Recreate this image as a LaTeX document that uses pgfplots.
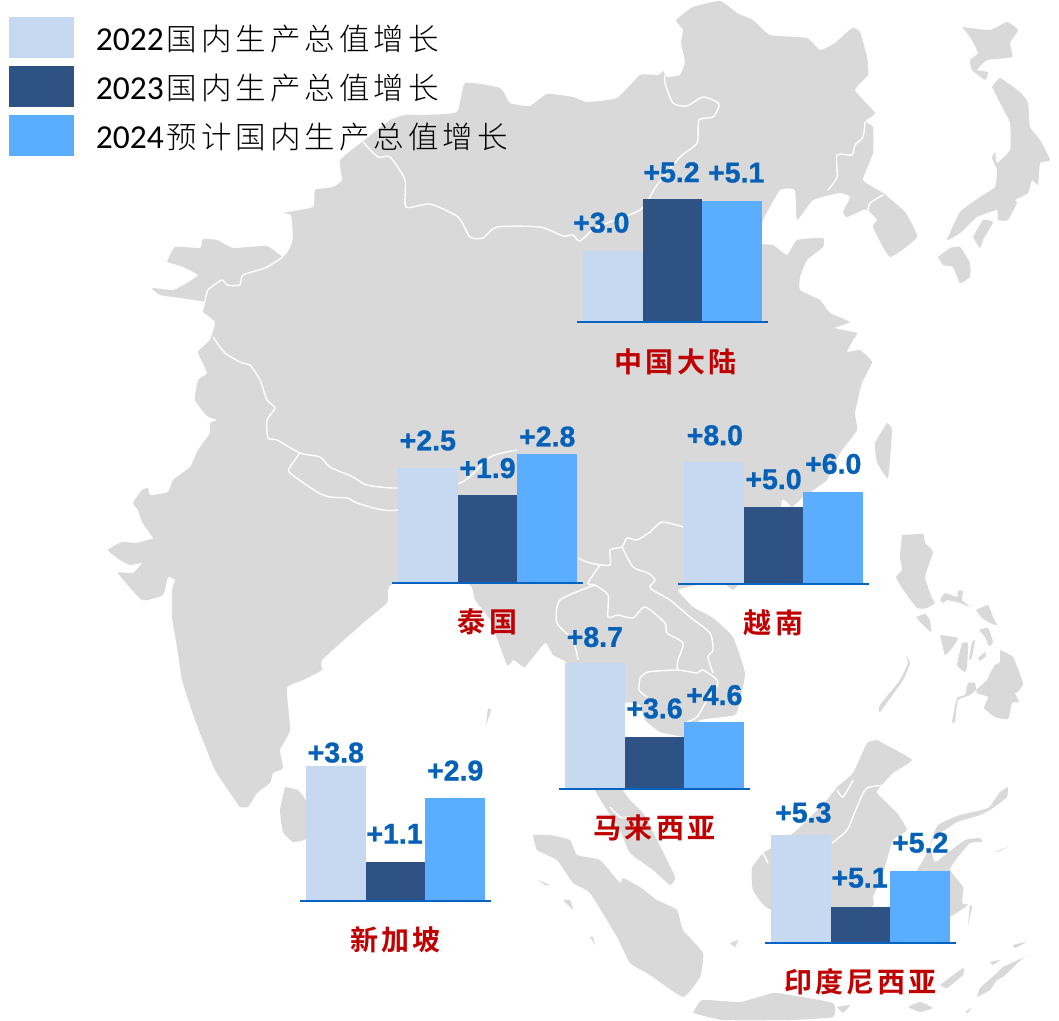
\documentclass[border=0pt]{standalone}
\usepackage{pgfplots}
\pgfplotsset{compat=1.18}
\usepackage{fontspec}
\setmainfont{Liberation Sans}
\newfontfamily\barnum[FakeBold=1]{Liberation Sans Bold}
\newfontfamily\legcjk[LetterSpace=13]{Noto Sans CJK SC Light}
\newfontfamily\legnum{Carlito}
\newfontfamily\labcjk[LetterSpace=11]{Noto Sans CJK SC Bold}
\definecolor{land}{HTML}{D9D9D9}
\definecolor{lightbar}{HTML}{C6D9F1}
\definecolor{darkbar}{HTML}{2E5283}
\definecolor{bluebar}{HTML}{5BADFF}
\definecolor{baseblue}{HTML}{0563C1}
\definecolor{labblue}{HTML}{0560B8}
\definecolor{labred}{HTML}{C00000}
\newcommand{\lt}[1]{{\fontsize{33.5}{36}\selectfont\legnum #1\hspace*{3pt}}}
\pgfplotsset{
  land/.style={fill=land,draw=none,forget plot,smooth,tension=0.25},
  bord/.style={draw=white,line width=1.4pt,fill=none,forget plot,smooth,tension=0.4,line join=round},
  country/.style={
    ybar,bar shift=0pt,bar width=59.7pt,x=59.7pt,
    xmin=-0.1,xmax=3.1,enlargelimits=false,clip=true,
    axis y line=none,axis x line*=bottom,xtick=\empty,ytick=\empty,
    axis on top=true,
    axis line style={-,draw=baseblue,line width=2pt},
    xlabel style={at={(axis description cs:0.5,0)},anchor=center,yshift=-39pt,
      font=\fontsize{28}{30}\selectfont\labcjk,text=labred},
    /pgf/number format/.cd,fixed,fixed zerofill,precision=1,assume math mode=true},
}
% colour, position, value, x offset, gap above bar (pt)
\newcommand{\gb}[5]{\addplot[fill=#1,draw=none,
  nodes near coords={+\pgfmathprintnumber{\pgfplotspointmeta}},
  nodes near coords style={inner sep=0pt,xshift=#4pt,yshift=#5pt,text=labblue,
    font=\fontsize{28.5}{30}\selectfont\barnum}]
  coordinates {(#2,#3)};}
\begin{document}
\begin{tikzpicture}
\path[use as bounding box] (0,0) rectangle (1059pt,1020pt);
\begin{axis}[at={(0pt,0pt)},anchor=south west,x=1pt,y=1pt,xmin=0,xmax=1059,ymin=0,ymax=1020,
  y dir=reverse,hide axis,clip=true,
  legend cell align=left,
  legend image code/.code={\fill[#1,draw=none] (0pt,-20pt) rectangle (65pt,21pt);},
  legend style={at={(axis cs:9,17)},anchor=north west,draw=none,fill=none,inner sep=0pt,outer sep=0pt,
    row sep=8pt,nodes={inner sep=0pt,text depth=0pt},
    /tikz/every odd column/.style={column sep=22pt},
    font=\fontsize{30.5}{34}\selectfont\legcjk}]
% mainland Asia
\addplot[land] coordinates {(167,262)(175,247)(200,248)(203,239)(217,240)(233,248)(267,246)(283,257)(290,248)(293,237)(291,215)(283,213)(313,207)(315,190)(333,187)(342,180)(340,160)(362,142)(390,120)(405,115)(423,115)(457,112)(465,83)(500,88)(510,103)(530,106)(547,94)(573,97)(587,102)(617,98)(640,75)(658,75)(663,71)(667,77)(680,75)(685,62)(681,43)(683,30)(676,20)(693,7)(720,1)(737,13)(753,20)(770,35)(807,38)(820,50)(835,43)(852,28)(860,32)(867,57)(868,75)(855,90)(875,113)(865,121)(873,127)(873,153)(863,180)(883,193)(905,212)(917,237)(890,257)(873,227)(877,220)(868,210)(863,210)(847,217)(843,212)(850,197)(840,193)(813,200)(797,220)(795,190)(780,190)(763,220)(760,243)(773,245)(787,255)(797,240)(823,238)(823,247)(807,260)(800,277)(800,290)(820,300)(830,313)(850,322)(835,328)(857,333)(853,340)(847,352)(860,350)(872,362)(862,383)(855,413)(857,430)(840,453)(827,480)(803,497)(792,507)(782,500)(775,560)(700,584)(678,590)(693,607)(713,618)(733,637)(745,673)(740,700)(735,715)(700,720)(690,735)(684,737)(660,732)(645,720)(640,705)(625,703)(615,730)(610,770)(630,800)(643,813)(657,840)(675,877)(670,885)(653,870)(630,853)(620,830)(607,810)(595,790)(585,750)(575,690)(567,663)(553,655)(545,643)(525,667)(518,663)(513,660)(507,665)(490,620)(475,600)(468,584)(393,584)(388,593)(387,603)(363,623)(322,660)(322,670)(303,680)(287,688)(290,730)(280,750)(283,768)(273,773)(270,783)(257,793)(248,807)(240,807)(237,803)(215,770)(195,720)(182,680)(178,653)(172,617)(172,590)(175,580)(168,577)(163,595)(142,600)(118,573)(133,573)(142,563)(130,565)(120,560)(108,550)(122,542)(137,543)(147,540)(153,538)(142,522)(138,510)(133,503)(142,490)(148,488)(150,495)(168,492)(173,480)(190,467)(198,450)(210,433)(210,423)(217,420)(207,416)(195,400)(198,380)(207,373)(198,352)(210,340)(215,322)(203,312)(205,302)(180,298)(160,295)(152,288)(173,290)(187,283)(198,275)(183,267)(167,262)};
% Sri Lanka, Hainan, Taiwan
\addplot[land] coordinates {(285,787)(298,790)(307,803)(307,838)(293,842)(283,832)(280,810)(285,787)};
\addplot[land] coordinates {(725,584)(738,584)(733,590)(725,584)};
\addplot[land] coordinates {(887,423)(892,430)(888,478)(877,462)(875,443)(887,423)};
% Japan
\addplot[land] coordinates {(962,27)(990,30)(1007,22)(1018,30)(1010,43)(1012,57)(987,60)(977,70)(988,72)(985,80)(972,70)(970,60)(978,53)(970,37)(962,27)};
\addplot[land] coordinates {(992,87)(1000,78)(1020,92)(1028,103)(1030,127)(1040,140)(1050,160)(1040,163)(1038,185)(1032,180)(1028,193)(1015,200)(1017,203)(1008,220)(998,220)(997,210)(977,217)(960,233)(947,240)(960,212)(980,197)(995,187)(997,170)(992,158)(995,152)(997,163)(1010,150)(1010,123)(1000,103)(992,87)};
\addplot[land] coordinates {(973,237)(983,220)(993,222)(983,240)(980,248)(973,237)};
\addplot[land] coordinates {(938,257)(950,248)(960,247)(970,263)(970,277)(960,283)(953,267)(943,265)(938,257)};
% Philippines
\addplot[land] coordinates {(902,535)(923,534)(925,543)(933,552)(925,577)(932,598)(935,603)(927,608)(917,608)(902,588)(896,577)(902,570)(900,557)(902,535)};
\addplot[land] coordinates {(940,600)(945,593)(957,597)(958,591)(963,591)(962,600)(970,607)(960,603)(947,600)(943,603)(940,600)};
\addplot[land] coordinates {(916,617)(925,614)(930,620)(931,632)(923,625)(916,617)};
\addplot[land] coordinates {(976,610)(988,605)(993,617)(997,625)(990,623)(982,618)(976,610)};
\addplot[land] coordinates {(979,630)(988,628)(993,642)(989,646)(985,637)(979,630)};
\addplot[land] coordinates {(940,635)(958,638)(952,648)(945,655)(940,635)};
\addplot[land] coordinates {(962,643)(968,643)(967,667)(965,672)(957,665)(962,643)};
\addplot[land] coordinates {(972,642)(975,640)(972,657)(969,660)(972,642)};
\addplot[land] coordinates {(978,658)(985,652)(986,656)(980,661)(978,658)};
\addplot[land] coordinates {(1000,650)(1013,657)(1023,683)(1018,692)(1015,693)(1019,702)(1012,703)(1008,719)(995,717)(984,708)(988,697)(977,693)(975,683)(968,683)(965,695)(957,698)(952,722)(955,722)(958,700)(970,695)(987,680)(990,673)(995,665)(1000,662)(1000,650)};
\addplot[land] coordinates {(906,655)(910,663)(903,680)(880,712)(880,705)(900,680)(908,663)(906,655)};
% Sumatra and neighbours
\addplot[land] coordinates {(533,835)(550,835)(570,840)(577,855)(600,860)(620,883)(623,878)(640,887)(657,900)(677,910)(683,930)(703,953)(700,977)(683,997)(650,975)(630,963)(617,937)(590,893)(573,883)(557,860)(537,850)(533,835)};
\addplot[land] coordinates {(538,880)(550,885)(545,885)(538,880)};
\addplot[land] coordinates {(563,900)(573,910)(570,900)(563,900)};
\addplot[land] coordinates {(590,937)(595,945)(593,937)(590,937)};
\addplot[land] coordinates {(730,943)(738,940)(735,947)(730,943)};
\addplot[land] coordinates {(488,708)(491,710)(486,725)(488,708)};
% Java and islands east
\addplot[land] coordinates {(693,1013)(702,1000)(740,1002)(773,993)(790,995)(833,1003)(833,1017)(790,1020)(723,1020)(693,1013)};
\addplot[land] coordinates {(837,1007)(850,1005)(843,1013)(837,1007)};
\addplot[land] coordinates {(908,1007)(920,1002)(933,1008)(920,1012)(908,1007)};
\addplot[land] coordinates {(977,997)(980,988)(998,972)(1003,967)(1033,953)(1023,958)(1003,977)(997,980)(990,990)(977,997)};
\addplot[land] coordinates {(965,1012)(971,1008)(968,1013)(965,1012)};
\addplot[land] coordinates {(940,985)(963,968)(963,975)(947,988)(940,985)};
\addplot[land] coordinates {(1013,945)(1026,942)(1015,948)(1013,945)};
\addplot[land] coordinates {(990,962)(1000,960)(993,965)(990,962)};
% Borneo
\addplot[land] coordinates {(877,740)(890,747)(912,760)(893,773)(880,787)(877,793)(897,813)(907,830)(893,840)(883,873)(873,897)(870,907)(772,910)(753,890)(752,868)(763,853)(773,847)(797,830)(827,800)(837,787)(853,773)(867,743)(877,740)};
% Sulawesi
\addplot[land] coordinates {(1008,787)(1007,797)(993,808)(980,815)(957,822)(945,830)(935,835)(927,853)(917,870)(905,885)(905,940)(950,917)(968,905)(962,903)(963,887)(950,870)(957,858)(970,843)(982,842)(980,838)(965,840)(945,855)(935,862)(930,845)(938,825)(960,815)(988,808)(1000,792)(1008,787)};
\addplot[land] coordinates {(972,907)(968,925)(970,905)(972,907)};
\addplot[land] coordinates {(995,852)(1008,847)(1000,851)(995,852)};
% borders
\addplot[bord] coordinates {(363,142)(378,157)(390,157)(405,180)(406,207)(430,204)(458,217)(470,237)(483,238)(497,227)(540,227)(563,236)(573,235)(580,241)(597,227)(640,210)(657,185)(680,157)(697,143)(699,120)(713,117)(719,104)(703,97)(687,106)(673,103)(665,83)(665,75)};
\addplot[bord] coordinates {(865,122)(863,137)(855,145)(852,155)(837,155)(837,177)(828,190)};
\addplot[bord] coordinates {(883,195)(870,203)(868,210)};
\addplot[bord] coordinates {(283,257)(265,268)(243,275)(240,285)(227,285)(222,280)(208,290)(205,302)};
\addplot[bord] coordinates {(213,337)(225,353)(242,363)(250,365)(260,380)(267,400)(275,408)(267,420)(268,438)(277,440)(300,453)(320,457)(330,467)(353,477)(367,485)(397,488)(460,483)(490,457)(517,450)};
\addplot[bord] coordinates {(300,453)(290,467)(290,473)(317,492)(330,497)(347,498)(357,503)(370,507)(383,510)(397,510)(460,500)};
\addplot[bord] coordinates {(578,558)(590,563)(610,565)(610,550)(622,547)(627,538)(637,540)(650,532)(662,522)(683,527)};
\addplot[bord] coordinates {(622,547)(633,567)(648,573)(655,580)(650,588)(670,600)(690,617)(710,633)(713,650)(708,657)(713,673)};
\addplot[bord] coordinates {(600,565)(588,583)(595,585)(608,595)(608,617)(618,615)(633,618)(645,607)(665,623)(667,633)(683,643)(678,660)(677,670)};
\addplot[bord] coordinates {(595,585)(560,600)(557,623)(573,640)(578,660)};
\addplot[bord] coordinates {(640,678)(648,672)(677,670)(697,673)(703,670)(718,682)(707,700)(697,717)(687,722)};
\addplot[bord] coordinates {(640,678)(639,690)(647,697)};
\addplot[bord] coordinates {(610,807)(620,817)(630,817)};
\addplot[bord] coordinates {(832,843)(847,830)(857,807)(867,788)(890,785)};
\addplot[bord] coordinates {(837,790)(843,797)(853,780)};
\addplot[bord] coordinates {(763,853)(768,863)};
% legend
\addlegendimage{fill=lightbar}\addlegendentry{\lt{2022}国内生产总值增长}
\addlegendimage{fill=darkbar}\addlegendentry{\lt{2023}国内生产总值增长}
\addlegendimage{fill=bluebar}\addlegendentry{\lt{2024}预计国内生产总值增长}
\end{axis}
% China mainland
\begin{axis}[country,at={(577pt,697.5pt)},anchor=south west,y=23.83pt,ymin=0,ymax=7,
  xlabel={\hspace*{6pt}中国大陆}]
\gb{lightbar}{0.5}{3.0}{-11.5}{18}
\gb{darkbar}{1.5}{5.2}{-1}{16}
\gb{bluebar}{2.5}{5.1}{4}{18}
\end{axis}
% Thailand
\begin{axis}[country,at={(392pt,437pt)},anchor=south west,y=46.1pt,ymin=0,ymax=3.8,
  xlabel={泰\,国}]
\gb{lightbar}{0.5}{2.5}{0}{17}
\gb{darkbar}{1.5}{1.9}{0}{17}
\gb{bluebar}{2.5}{2.8}{0}{7}
\end{axis}
% Vietnam
\begin{axis}[country,at={(678pt,436pt)},anchor=south west,y=15.3pt,ymin=0,ymax=11,
  xlabel={越南}]
\gb{lightbar}{0.5}{8.0}{1}{16}
\gb{darkbar}{1.5}{5.0}{0}{18}
\gb{bluebar}{2.5}{6.0}{0}{18}
\end{axis}
% Malaysia
\begin{axis}[country,at={(559pt,231.3pt)},anchor=south west,y=14.41pt,ymin=0,ymax=12,
  xlabel={马来西亚}]
\gb{lightbar}{0.5}{8.7}{0}{16}
\gb{darkbar}{1.5}{3.6}{0}{18}
\gb{bluebar}{2.5}{4.6}{0}{17}
\end{axis}
% Singapore
\begin{axis}[country,at={(300pt,119.2pt)},anchor=south west,y=35.5pt,ymin=0,ymax=5,
  xlabel={新加坡}]
\gb{lightbar}{0.5}{3.8}{0}{3}
\gb{darkbar}{1.5}{1.1}{-1}{18}
\gb{bluebar}{2.5}{2.9}{0}{17}
\end{axis}
% Indonesia (bars start from 5.0 in the source)
\begin{axis}[country,at={(765pt,77pt)},anchor=south west,y=360pt,ymin=5,ymax=5.45,
  xlabel={印度尼西亚}]
\gb{lightbar}{0.5}{5.3}{2.5}{12}
\gb{darkbar}{1.5}{5.1}{-1}{19}
\gb{bluebar}{2.5}{5.2}{0}{18}
\end{axis}
\end{tikzpicture}
\end{document}
